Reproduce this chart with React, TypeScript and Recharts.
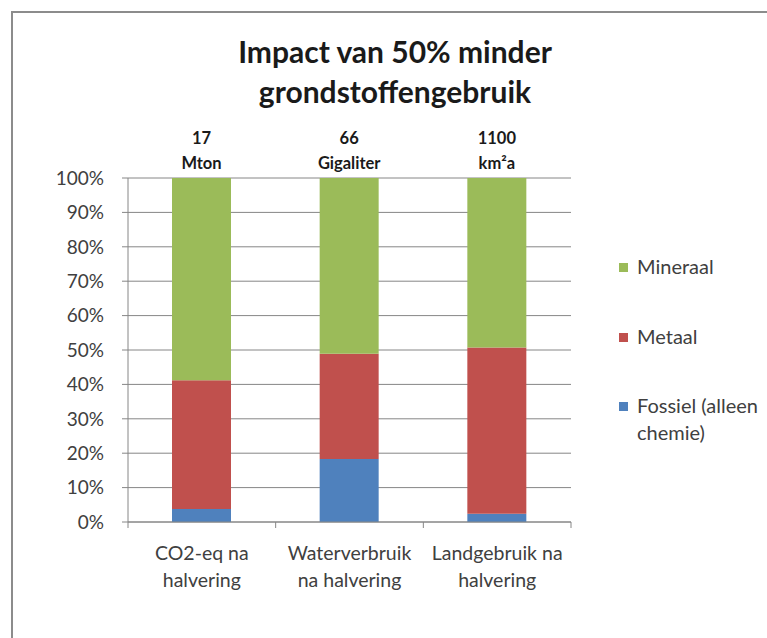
import React from 'react';
import { BarChart, Bar, XAxis, YAxis, CartesianGrid, LabelList } from 'recharts';

const categories = ['CO2-eq na\nhalvering', 'Waterverbruik\nna halvering', 'Landgebruik na\nhalvering'];
const fossiel = [3.8, 18.3, 2.4];
const metaal = [37.4, 30.6, 48.3];
const mineraal = [58.8, 51.1, 49.3];
const impactValues = ['17', '66', '1100'];
const impactUnits = ['Mton', 'Gigaliter', 'km²a'];
const yTicks = [0, 0.1, 0.2, 0.3, 0.4, 0.5, 0.6, 0.7, 0.8, 0.9, 1];
const seriesKeys = ['fossiel', 'metaal', 'mineraal'];
const seriesNames = ['Fossiel (alleen chemie)', 'Metaal', 'Mineraal'];
const seriesColors = ['#4F81BD', '#C0504D', '#9BBB59'];
const titleLines = ['Impact van 50% minder', 'grondstoffengebruik'];

const FONT = 'Lato, "Open Sans", sans-serif';
const GRID = '#868686';
const TEXT = '#404040';

const data = categories.map((c, i) => ({
  name: c,
  fossiel: fossiel[i],
  metaal: metaal[i],
  mineraal: mineraal[i],
}));

const CategoryTick = (props: any) => {
  const { x, y, payload, index, visibleTicksCount, width } = props;
  const half = payload && payload.offset ? payload.offset : width / (visibleTicksCount || 3) / 2;
  const lines = String(payload.value).split('\n');
  return (
    <g>
      <line x1={x - half} x2={x - half} y1={y} y2={y + 6} stroke={GRID} />
      {index === visibleTicksCount - 1 && (
        <line x1={x + half} x2={x + half} y1={y} y2={y + 6} stroke={GRID} />
      )}
      <text x={x} y={y} textAnchor="middle" fontFamily={FONT} fontSize={19.5} fill={TEXT}>
        {lines.map((l, i) => (
          <tspan key={i} x={x} dy={i === 0 ? 38 : 27}>
            {l}
          </tspan>
        ))}
      </text>
    </g>
  );
};

const ImpactLabel = (props: any) => {
  const { x, y, width, index } = props;
  const cx = Number(x) + Number(width) / 2;
  return (
    <text textAnchor="middle" fontFamily={FONT} fontWeight="bold" fontSize={16.5} fill="#1a1a1a">
      <tspan x={cx} y={Number(y) - 34}>{impactValues[index]}</tspan>
      <tspan x={cx} y={Number(y) - 9}>{impactUnits[index]}</tspan>
    </text>
  );
};

export default function App() {
  const legendOrder = [2, 1, 0];
  return (
    <div
      style={{
        position: 'absolute',
        left: 0,
        top: 0,
        width: 767,
        height: 638,
        overflow: 'hidden',
        background: '#fff',
      }}
    >
      <div
        style={{
          position: 'absolute',
          left: 11,
          top: 11,
          width: 800,
          height: 700,
          border: '2px solid #8c8c8c',
        }}
      />
      <div
        style={{
          position: 'absolute',
          left: 145,
          width: 500,
          top: 31,
          textAlign: 'center',
          fontFamily: FONT,
          fontWeight: 'bold',
          fontSize: 30,
          lineHeight: '40px',
          color: '#1a1a1a',
        }}
      >
        {titleLines.map((t, i) => (
          <div key={i}>{t}</div>
        ))}
      </div>
      <div style={{ position: 'absolute', left: 0, top: 0 }}>
        <BarChart
          width={767}
          height={638}
          data={data}
          stackOffset="expand"
          barSize={59}
          margin={{ top: 178, right: 196, bottom: 0, left: 0 }}
        >
          <CartesianGrid horizontal vertical={false} stroke={GRID} strokeWidth={1} />
          <XAxis
            dataKey="name"
            interval={0}
            tickSize={0}
            tickMargin={0}
            tickLine={false}
            axisLine={{ stroke: GRID }}
            tick={<CategoryTick />}
            height={116}
          />
          <YAxis
            width={128}
            domain={[0, 1]}
            ticks={yTicks}
            interval={0}
            tickSize={6}
            tickMargin={18}
            axisLine={{ stroke: GRID }}
            tickLine={{ stroke: GRID }}
            tickFormatter={(v: number) => `${Math.round(v * 100)}%`}
            tick={{ fontFamily: FONT, fontSize: 19, fill: TEXT }}
          />
          {seriesKeys.map((k, i) => (
            <Bar
              key={k}
              dataKey={k}
              name={seriesNames[i]}
              stackId="a"
              fill={seriesColors[i]}
              isAnimationActive={false}
            >
              {k === 'mineraal' && <LabelList dataKey="mineraal" content={<ImpactLabel />} />}
            </Bar>
          ))}
        </BarChart>
      </div>
      <div
        style={{
          position: 'absolute',
          left: 619,
          top: 259,
          width: 148,
          fontFamily: FONT,
          fontSize: 20,
          color: TEXT,
        }}
      >
        {legendOrder.map((si) => (
          <div key={si} style={{ position: 'relative', height: 69.5 }}>
            <div
              style={{
                position: 'absolute',
                left: 0,
                top: 4,
                width: 9,
                height: 9,
                background: seriesColors[si],
              }}
            />
            <div
              style={{
                position: 'absolute',
                left: 18,
                top: -6,
                width: 140,
                lineHeight: '27px',
                whiteSpace: 'normal',
              }}
            >
              {seriesNames[si]}
            </div>
          </div>
        ))}
      </div>
    </div>
  );
}
